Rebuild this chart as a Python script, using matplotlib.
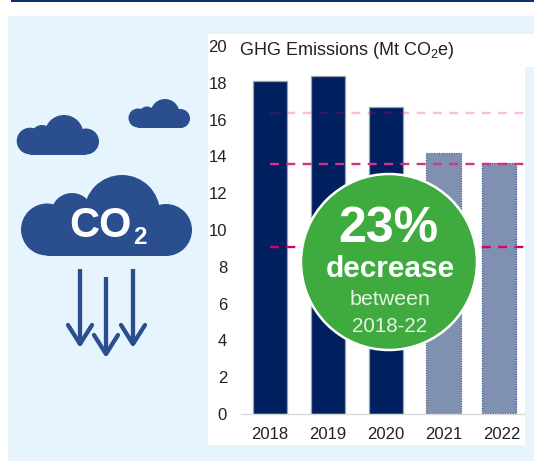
import matplotlib
matplotlib.use("Agg")
import matplotlib.pyplot as plt
from matplotlib.patches import Circle, Rectangle

plt.rcParams['font.family'] = ['Liberation Sans', 'DejaVu Sans']
plt.rcParams['mathtext.fontset'] = 'custom'
plt.rcParams['mathtext.rm'] = 'Liberation Sans'

years = ['2018', '2019', '2020', '2021', '2022']
emissions = [18.1, 18.35, 16.67, 14.2, 13.62]
y_ticks = [0, 2, 4, 6, 8, 10, 12, 14, 16, 18, 20]
target_levels = [16.34, 13.6, 9.07]

W, H = 534, 461
PANEL = '#E6F4FD'
NAVY = '#002060'
LIGHT = '#8090B0'
CLOUD = '#2B4F8E'
GREEN = '#3FAB3F'

fig = plt.figure(figsize=(W / 100, H / 100), dpi=100, facecolor='white')

# background layer in pixel coordinates
bg = fig.add_axes([0, 0, 1, 1], zorder=0)
bg.set_xlim(0, W); bg.set_ylim(H, 0); bg.axis('off')
bg.add_patch(Rectangle((11, 0), W - 11, 2, color='#0B2F6B', lw=0))
bg.add_patch(Rectangle((8, 16), W - 8, H - 16, color=PANEL, lw=0))
bg.add_patch(Rectangle((208, 34), 317, 411, color='white', lw=0))
bg.add_patch(Rectangle((208, 34), W - 208, 33, color='white', lw=0))

# chart
ax = fig.add_axes([241 / W, 1 - 414 / H, 284 / W, 368 / H], zorder=1)
ax.patch.set_alpha(0)
ax.set_xlim(-0.5, 4.4)
ax.set_ylim(0, 20)
for s in ['top', 'left', 'right']:
    ax.spines[s].set_visible(False)
ax.spines['bottom'].set_color('#D9D9D9')
ax.spines['bottom'].set_linewidth(1)
ax.set_yticks(y_ticks)
ax.set_xticks(range(len(years)))
ax.set_xticklabels(years)
ax.tick_params(axis='both', length=0, labelsize=12, colors='#222222')
ax.tick_params(axis='y', pad=10)
ax.tick_params(axis='x', pad=9)

for i, (yr, v) in enumerate(zip(years, emissions)):
    if i < 3:
        ax.bar(i, v, width=0.6, color=NAVY, edgecolor='#A0A0A0', linewidth=0.9, zorder=2)
    elif i == 3:
        ax.bar(i, v, width=0.6, color=LIGHT, edgecolor='#555F70', linewidth=0.9,
               linestyle=(0, (1, 1)), zorder=2)
    else:
        ax.bar(i - 0.05, v - 0.07, width=0.58, bottom=0.07, color=LIGHT, edgecolor='#2B4F9E',
               linewidth=0.9, linestyle=(0, (1, 1)), zorder=2)

line_styles = [('#E6007E', 0.25), ('#D6308A', 1.0), ('#D6006E', 1.0)]
for lvl, (c, a) in zip(target_levels, line_styles):
    ax.plot([0, 4.4], [lvl, lvl], color=c, alpha=a, lw=1.7,
            dashes=(3.8, 3.1), zorder=3)

# overlay layer in pixel coordinates
ov = fig.add_axes([0, 0, 1, 1], zorder=2)
ov.patch.set_alpha(0)
ov.set_xlim(0, W); ov.set_ylim(H, 0); ov.axis('off')

ov.text(239, 55, r'GHG Emissions (Mt CO$_{2}$e)', fontsize=13, color='#222222',
        ha='left', va='baseline')

def cloud(circles, rect):
    for cx, cy, r in circles:
        ov.add_patch(Circle((cx, cy), r, color=CLOUD, lw=0))
    ov.add_patch(Rectangle((rect[0], rect[1]), rect[2], rect[3], color=CLOUD, lw=0))

cloud([(64, 134.5, 19.5), (30, 141, 13.3), (42, 136, 11), (86, 141.5, 13)], (30, 135, 56, 19.5))
cloud([(165, 113.5, 14.5), (138, 118, 9.5), (147, 115, 8.5), (180.5, 118.5, 9.5)], (138, 112, 42, 16))
cloud([(122, 213, 38), (47, 229.5, 26), (72, 214, 21), (166, 230, 26)], (47, 215, 119, 40.5))

ov.text(69, 237, 'CO', fontsize=30, fontweight='bold', color='white', ha='left', va='baseline')
ov.text(132.8, 243.5, '2', fontsize=17.5, fontweight='bold', color='white', ha='left', va='baseline')

for x, y0, y1 in [(80, 269, 344), (106, 277, 354), (133, 269, 344)]:
    ov.plot([x, x], [y0, y1], color=CLOUD, lw=3.1, solid_capstyle='butt')
    ov.plot([x - 12, x, x + 12], [y1 - 19, y1, y1 - 19], color=CLOUD, lw=3.1,
            solid_capstyle='round', solid_joinstyle='round')

ov.add_patch(Circle((389, 262), 88, facecolor=GREEN, edgecolor='white', lw=1.8, zorder=5))
ov.text(388.5, 241.5, '23%', fontsize=36, fontweight='bold', color='white', ha='center', va='baseline', zorder=6)
ov.text(390, 277, 'decrease', fontsize=21.5, fontweight='bold', color='white', ha='center', va='baseline', zorder=6)
ov.text(390, 305, 'between', fontsize=15.4, color='#E6F3E4', ha='center', va='baseline', zorder=6)
ov.text(389.5, 332, '2018-22', fontsize=14.8, color='#E6F3E4', ha='center', va='baseline', zorder=6)

fig.savefig('out.png', dpi=100, facecolor='white')
